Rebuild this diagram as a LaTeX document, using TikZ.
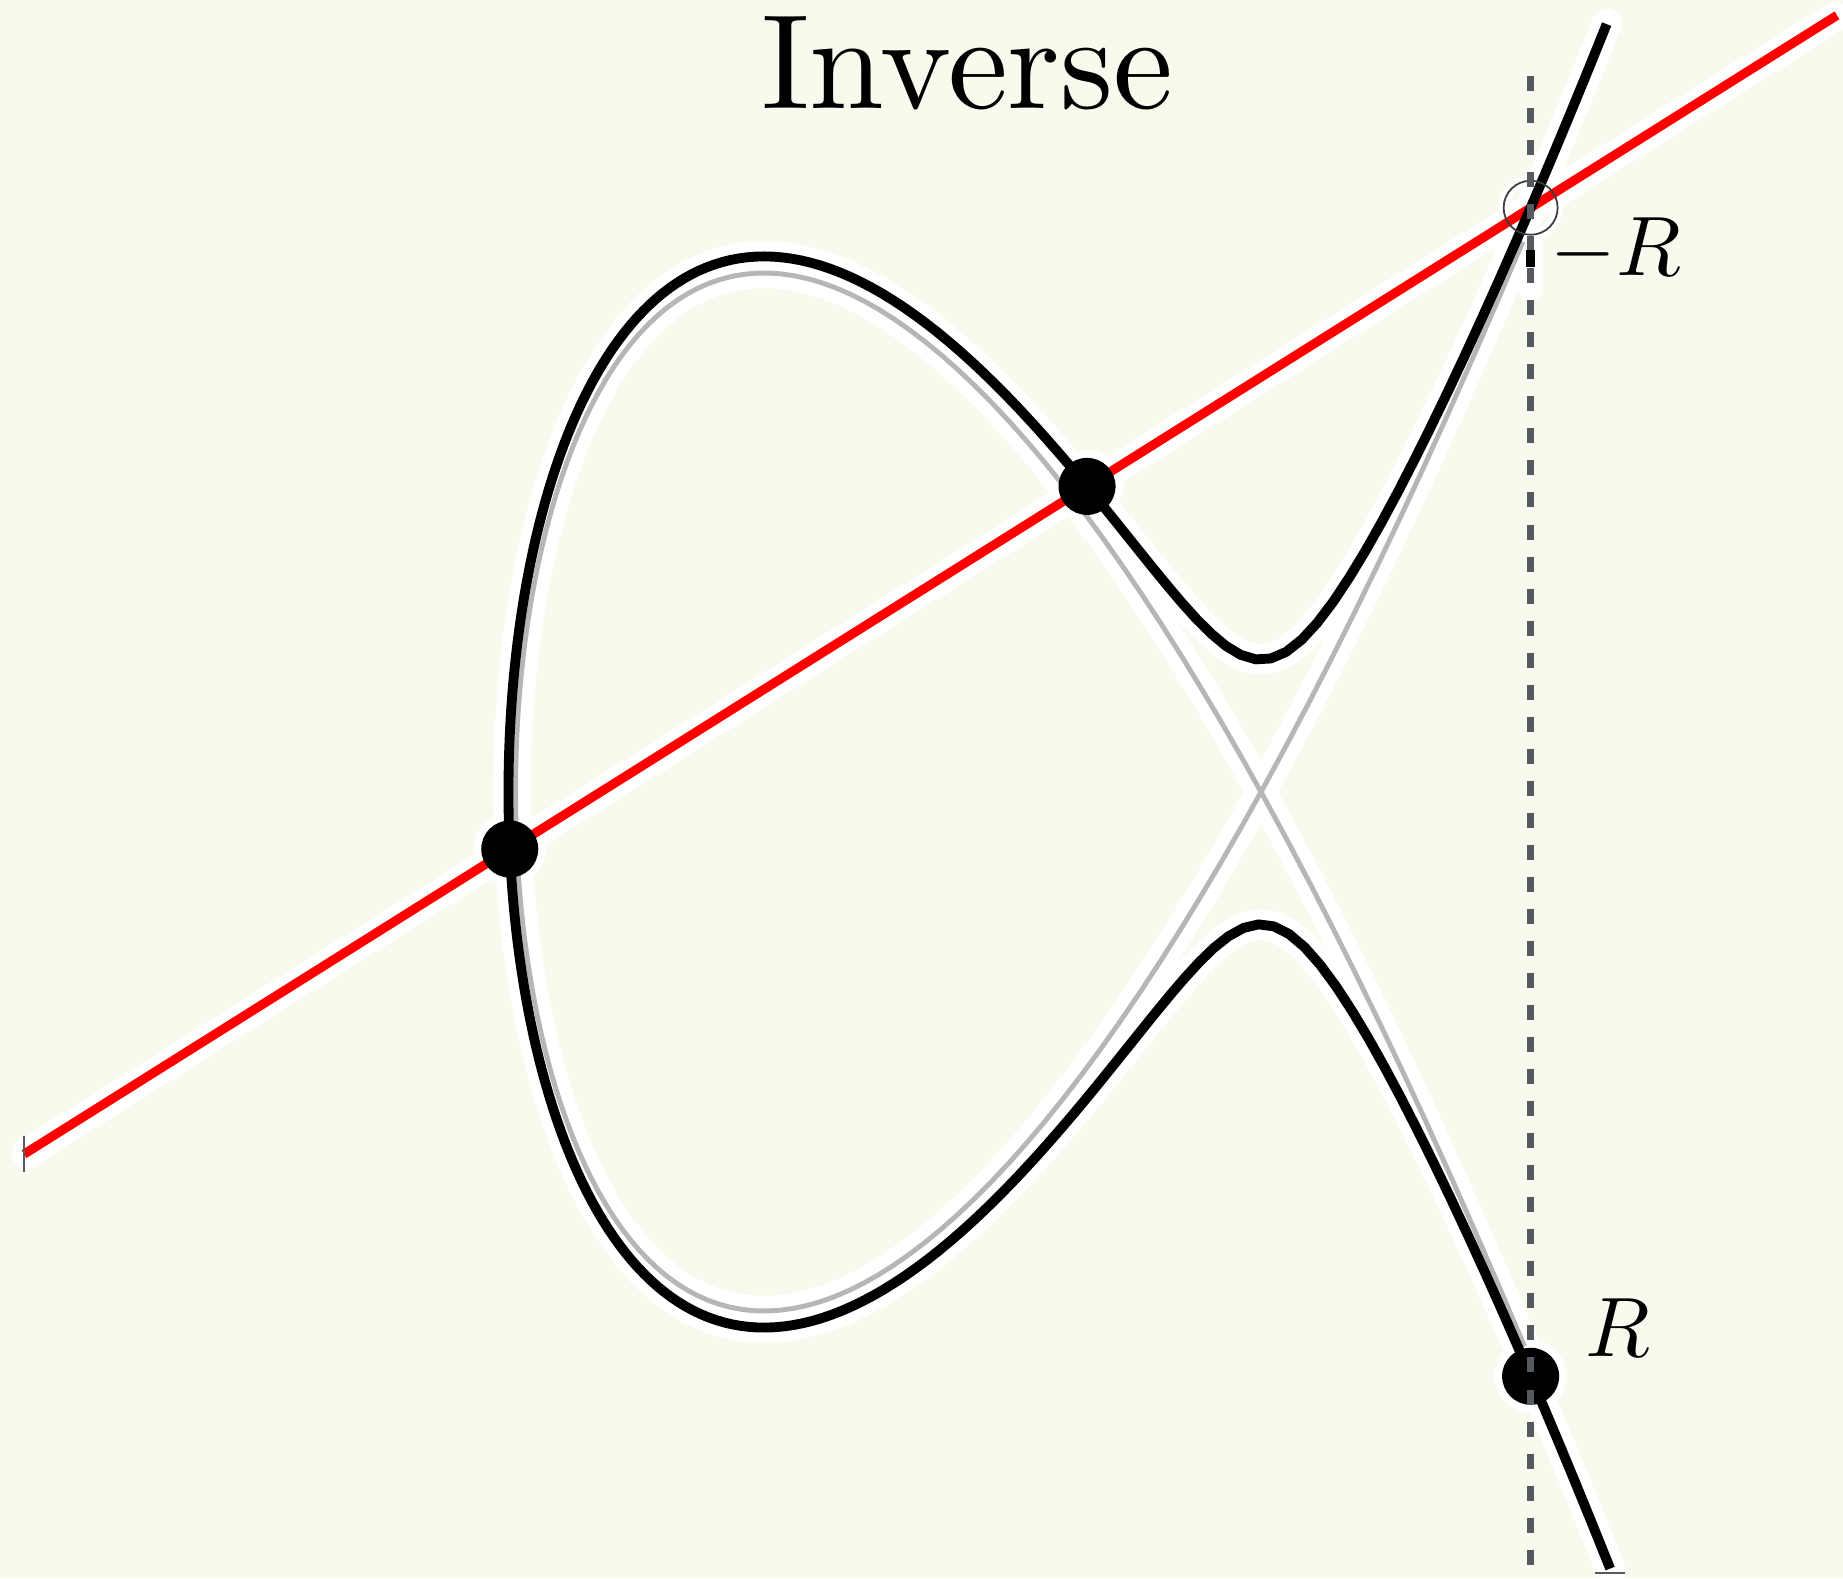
\documentclass[tikz,border=0pt]{standalone}
\definecolor{bgc}{RGB}{249,249,238}
\definecolor{dashc}{RGB}{85,89,96}
\definecolor{grayc}{RGB}{182,182,182}
\definecolor{ringc}{RGB}{60,60,60}
\font\titlefnt=cmr10 at 38.3pt
\font\lblmi=cmmi10 at 24pt
\font\lblsy=cmsy10 at 24pt
\begin{document}
\begin{tikzpicture}[x=0.01cm,y=0.01cm,
  declare function={bx(\t)=-2.02834+\t*\t; bg(\x)=\x*\x-2.02834*\x+1.114163;},
  halo/.style={white, line width=8.6pt, line cap=round, line join=round},
  blackc/.style={black, line width=2.8pt, line join=round},
  grayline/.style={grayc, line width=1.4pt, line join=round},
  redln/.style={red, line width=2.6pt},
  dashln/.style={dashc, line width=2pt, dash pattern=on 4.27pt off 4.84pt},
  dotnode/.style={circle, fill=black, inner sep=0pt, minimum size=0.57cm},
  ringnode/.style={circle, draw=ringc, line width=0.5pt, inner sep=0pt, minimum size=0.54cm},
  tickln/.style={dashc, line width=0.6pt},
  lbl/.style={inner sep=0pt}
]
\fill[bgc] (0,0) rectangle (1843,1578);
\useasboundingbox (0,0) rectangle (1843,1578);
\begin{scope}[shift={(1012.5,786)}, xscale=248.5, yscale=259.5]
  \coordinate (P1) at (-2.02315,-0.2198);
  \coordinate (P2) at (0.3,1.17767);
  \coordinate (mR) at (2.085,2.25146);
  \coordinate (R) at (2.085,-2.25146);
  \coordinate (L0) at (-3.978,-1.3957);
  \coordinate (L1) at (3.318,2.993);
  \coordinate (D0) at (2.085,2.7592);
  \coordinate (D1) at (2.085,-3.03);
  % halos
  \draw[halo] (L0) -- (L1);
  \draw[halo] plot[domain=-2.015:2.015, samples=161, variable=\t] ({\t*\t-2},{\t*\t*\t-3*\t});
  \draw[halo] plot[domain=-2.10555:2.10555, samples=241, variable=\t] ({bx(\t)},{\t*sqrt(bg(bx(\t)))});
\end{scope}
% point halos
\fill[white] (P1) circle[radius=36];
\fill[white] (P2) circle[radius=36];
\fill[white] (R) circle[radius=36];
\draw[white, line width=3pt] (mR) circle[radius=27];
\coordinate (tkA) at (1530.6,1335);
\coordinate (tkB) at (1530.6,1290);
\draw[white, line width=7pt, line cap=round] (tkA) -- (tkB);
% curves
\begin{scope}[shift={(1012.5,786)}, xscale=248.5, yscale=259.5]
  \draw[grayline] plot[domain=-2.015:2.015, samples=161, variable=\t] ({\t*\t-2},{\t*\t*\t-3*\t});
\end{scope}
\draw[redln] (L0) -- (L1);
\begin{scope}[shift={(1012.5,786)}, xscale=248.5, yscale=259.5]
  \draw[blackc] plot[domain=-2.10555:2.10555, samples=241, variable=\t] ({bx(\t)},{\t*sqrt(bg(bx(\t)))});
\end{scope}
% points
\node[dotnode] (n1) at (P1) {};
\node[dotnode] (n2) at (P2) {};
\node[dotnode] (nR) at (R) {};
\node[ringnode] (nmR) at (mR) {};
% vertical dashed line
\draw[dashln] (D0) -- (D1);
\coordinate (tkC) at (1530.6,1328);
\coordinate (tkD) at (1530.6,1311);
\draw[black, line width=2.5pt] (tkC) -- (tkD);
% end ticks
\draw[tickln] (L0) ++(0,18) -- ++(0,-36);
\coordinate (Bend) at (1610,5);
\draw[tickln] (Bend) ++(-15,0) -- ++(30,0);
% labels
\node[lbl, anchor=base west] (lmR) at (1550,1302) {{\lblsy\char0}{\lblmi R}};
\node[lbl, anchor=base west] (lR) at (1585,222) {{\lblmi R}};
\node[anchor=base, inner sep=0pt] (title) at (967.5,1469) {\titlefnt Inverse};
\end{tikzpicture}
\end{document}
